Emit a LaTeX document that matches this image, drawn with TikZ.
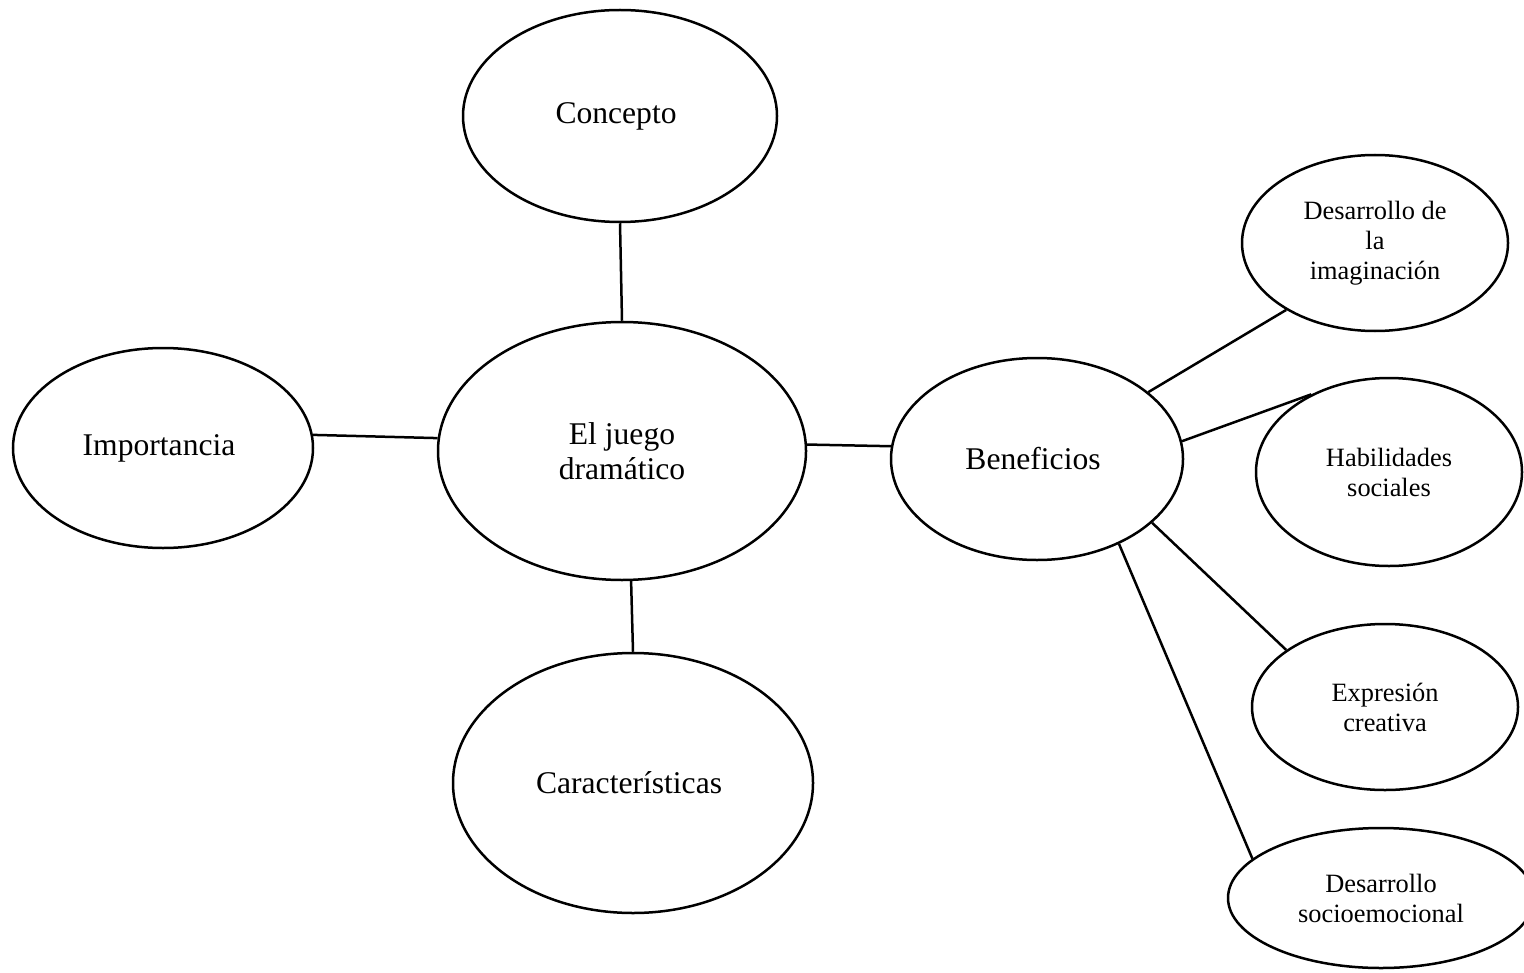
\documentclass[tikz,border=0pt]{standalone}
\usepackage{fontspec}
\setmainfont{Liberation Serif}
\usetikzlibrary{shapes.geometric}

\begin{document}
\begin{tikzpicture}[x=0.5pt,y=-0.5pt,line width=1.25pt,
    topic/.style={draw,ellipse,inner sep=0pt,align=center,font=\fontsize{15.8}{17.5}\selectfont},
    benefit/.style={draw,ellipse,inner sep=0pt,align=center,font=\fontsize{13.2}{15}\selectfont}]
  \useasboundingbox (0,0) rectangle (1524,973);

  \node [topic,minimum width=157pt,minimum height=106pt] (concepto) at (620,116) { Concepto };
  \node [topic,minimum width=184pt,minimum height=129pt] (juego) at (622,451) { El juego\\dramático };
  \node [topic,minimum width=150pt,minimum height=100pt] (imp) at (163,448) { Importancia };
  \node [topic,minimum width=180pt,minimum height=130pt] (car) at (633,783) { Características };
  \node [topic,minimum width=146pt,minimum height=101pt] (ben) at (1037,459) { Beneficios };

  \node [benefit,minimum width=133pt,minimum height=88pt] (imag) at (1375,243) { Desarrollo de\\la\\imaginación };
  \node [benefit,minimum width=133pt,minimum height=94pt] (hab) at (1389,472) { Habilidades\\sociales };
  \node [benefit,minimum width=133pt,minimum height=83pt] (expr) at (1385,707) { Expresión\\creativa };
  \node [benefit,minimum width=153pt,minimum height=70pt] (socio) at (1381,898) { Desarrollo\\socioemocional };

  \draw (concepto.south) -- (juego.north);
  \draw (imp.5) -- (juego.176);
  \draw (juego.2) -- (ben.175);
  \draw (juego.-86) -- (car.north);

  \draw (ben.31) -- (imag.-143);
  \draw (ben.7) -- (hab.135);
  \draw (ben.-29) -- (expr.150);
  \draw (ben.-46) -- (socio.163);
\end{tikzpicture}
\end{document}
